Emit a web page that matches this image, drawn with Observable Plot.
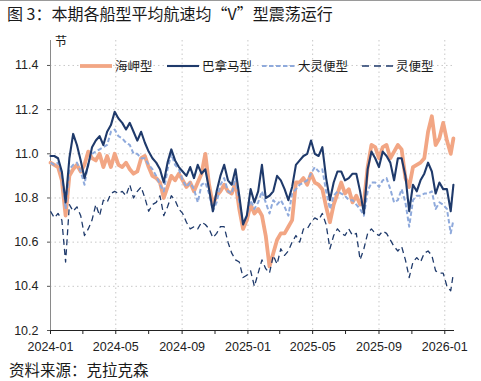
<!DOCTYPE html>
<html><head><meta charset="utf-8">
<script src="https://cdn.jsdelivr.net/npm/d3@7"></script>
<script src="https://cdn.jsdelivr.net/npm/@observablehq/plot@0.6"></script>
<style>
body{margin:0;background:#fff;}
#wrap{position:relative;width:481px;height:381px;overflow:hidden;background:#fff;font-family:"Noto Sans CJK SC","Noto Sans",sans-serif;color:#1a1a1a;}
#topline{position:absolute;left:0;top:0;width:481px;height:1px;background:#9a9a9a;}
#title{position:absolute;left:7px;top:3px;font-size:16px;line-height:20px;white-space:nowrap;}
#chart{position:absolute;left:0;top:0;}
#unit{position:absolute;left:55px;top:34px;font-size:12px;line-height:14px;}
#source{position:absolute;left:9px;top:360px;font-size:15.5px;line-height:18px;white-space:nowrap;}
#legend{position:absolute;left:0;top:0;pointer-events:none;}
</style></head><body>
<div id="wrap">
  <div id="topline"></div>
  <div id="title">图 3：本期各船型平均航速均“V”型震荡运行</div>
  <div id="chart"></div>
  <div id="unit">节</div>
  <svg id="legend" width="481" height="90"></svg>
  <div id="source">资料来源：克拉克森</div>
</div>
<script>
// weekly sampling dates (Mon 2024-01-01 onward) plus the last observation
const startDate = new Date(Date.UTC(2024, 0, 1));
const lastDate = new Date(Date.UTC(2026, 0, 17));
const dates = d3.range(107).map(i => d3.utcDay.offset(startDate, 7 * i)).concat([lastDate]);

const seriesNames = ["海岬型", "巴拿马型", "大灵便型", "灵便型"];

const capesize = [
  10.96,10.95,10.94,10.88,10.72,10.90,10.93,10.95,10.92,10.95,11.01,10.98,10.97,11.00,10.94,10.99,10.94,11.00,10.95,
  10.94,10.96,10.93,10.91,10.92,10.98,10.99,10.94,10.90,10.89,10.87,10.80,10.85,10.90,10.88,10.91,10.88,
  10.85,10.87,10.83,10.87,10.91,11.00,10.86,10.77,10.81,10.83,10.86,10.83,10.82,10.87,10.75,10.66,10.70,
  10.77,10.73,10.75,10.72,10.63,10.49,10.55,10.61,10.64,10.64,10.67,10.70,10.87,10.87,10.89,10.86,10.91,10.87,
  10.86,10.84,10.76,10.69,10.77,10.82,10.87,10.82,10.84,10.78,10.81,10.77,10.78,10.94,11.04,11.03,10.98,
  11.03,11.04,10.98,11.01,11.04,11.02,10.89,10.85,10.94,10.95,10.96,10.98,11.10,11.17,11.04,11.07,11.14,11.06,11.00,
  11.07
];
const panamax = [
  10.99,10.99,10.98,10.92,10.78,10.98,11.09,11.04,10.97,10.89,10.95,11.03,11.06,11.08,11.04,11.10,11.13,11.19,11.16,
  11.14,11.11,11.14,11.10,11.06,11.10,11.05,11.01,10.98,10.96,10.93,10.87,10.96,11.02,10.97,10.94,10.92,
  10.90,10.94,10.89,10.95,10.91,10.93,10.84,10.74,10.83,10.90,10.95,10.88,10.86,10.93,10.81,10.68,10.72,
  10.84,10.78,10.83,10.95,10.80,10.81,10.83,10.90,10.88,10.84,10.79,10.85,10.95,10.97,10.99,11.00,11.06,11.00,
  10.99,11.03,10.89,10.79,10.87,10.92,10.92,10.88,10.89,10.91,10.91,10.83,10.73,10.93,11.01,10.98,10.94,
  11.01,10.99,10.96,10.88,10.98,10.98,10.90,10.74,10.86,10.83,10.88,10.91,10.96,10.92,10.82,10.87,10.84,10.84,10.74,
  10.86
];
const supramax = [
  10.96,10.95,10.96,10.90,10.75,10.93,10.95,10.96,10.92,10.86,10.96,11.00,11.01,11.02,11.03,11.04,11.10,11.11,11.08,
  11.07,11.05,11.04,11.00,11.00,10.98,10.98,10.95,10.93,10.90,10.86,10.83,10.93,11.00,10.95,10.93,10.88,
  10.85,10.87,10.84,10.78,10.86,10.87,10.82,10.74,10.78,10.86,10.89,10.83,10.82,10.89,10.78,10.69,10.72,
  10.79,10.75,10.78,10.83,10.78,10.73,10.79,10.77,10.79,10.76,10.72,10.82,10.84,10.86,10.87,10.88,10.91,10.94,
  10.92,10.93,10.83,10.75,10.81,10.83,10.82,10.81,10.79,10.79,10.77,10.75,10.72,10.83,10.87,10.87,10.85,
  10.88,10.89,10.84,10.78,10.79,10.84,10.78,10.67,10.79,10.81,10.81,10.82,10.82,10.83,10.75,10.78,10.77,10.75,10.64,
  10.70
];
const handysize = [
  10.74,10.71,10.73,10.70,10.51,10.77,10.74,10.76,10.72,10.63,10.66,10.70,10.77,10.72,10.79,10.78,10.82,10.83,10.82,
  10.83,10.81,10.86,10.80,10.83,10.85,10.80,10.74,10.77,10.78,10.81,10.72,10.76,10.81,10.79,10.75,10.73,
  10.69,10.66,10.67,10.66,10.69,10.68,10.66,10.62,10.64,10.67,10.67,10.60,10.55,10.52,10.51,10.44,10.45,
  10.47,10.40,10.46,10.52,10.48,10.46,10.54,10.50,10.57,10.54,10.56,10.60,10.63,10.60,10.66,10.66,10.69,10.71,
  10.70,10.73,10.68,10.57,10.63,10.66,10.64,10.63,10.66,10.63,10.64,10.52,10.57,10.64,10.66,10.64,10.63,
  10.65,10.64,10.61,10.58,10.56,10.58,10.52,10.44,10.51,10.53,10.51,10.55,10.56,10.54,10.47,10.46,10.46,10.40,10.38,
  10.46
];

const yTicks = [10.2, 10.4, 10.6, 10.8, 11.0, 11.2, 11.4];
const xTickLabels = ["2024-01","2024-05","2024-09","2025-01","2025-05","2025-09","2026-01"];

const styles = {
  "海岬型":   {stroke: "#F2A684", strokeWidth: 3.8, dash: null},
  "巴拿马型": {stroke: "#1F3A6B", strokeWidth: 2.1, dash: null},
  "大灵便型": {stroke: "#8FAADC", strokeWidth: 2.0, dash: "4.5,2.5"},
  "灵便型":   {stroke: "#1F3A6B", strokeWidth: 1.3, dash: "6,4"}
};

const valuesBy = {"海岬型": capesize, "巴拿马型": panamax, "大灵便型": supramax, "灵便型": handysize};
const rows = name => dates.map((d, i) => ({date: d, value: valuesBy[name][i], series: name}));

const parseM = d3.utcParse("%Y-%m");
const majorTicks = xTickLabels.map(parseM);
const allTicks = d3.utcMonth.every(2).range(new Date(Date.UTC(2024,0,1)), new Date(Date.UTC(2026,0,2)));
const labelSet = new Set(xTickLabels);
const fmt = d3.utcFormat("%Y-%m");

const xDomain = [new Date(Date.UTC(2024,0,1)), new Date(Date.UTC(2026,0,19))];
const yTop = 11.513;

const lineMark = name => Plot.line(rows(name), {
  x: "date", y: "value",
  stroke: styles[name].stroke, strokeWidth: styles[name].strokeWidth,
  strokeDasharray: styles[name].dash, strokeLinejoin: "round", strokeLinecap: styles[name].dash ? "butt" : "round"
});

const chart = Plot.plot({
  width: 481, height: 364,
  marginLeft: 50, marginRight: 27, marginTop: 40, marginBottom: 34,
  style: {fontFamily: '"Liberation Sans", Arial, sans-serif', fontSize: "12.5px", color: "#222", background: "transparent", overflow: "visible"},
  x: {type: "utc", domain: xDomain},
  y: {domain: [10.2, yTop]},
  marks: [
    Plot.gridY(yTicks, {stroke: "#c8c8c8", strokeOpacity: 1, strokeDasharray: "1.5,3"}),
    Plot.gridX(majorTicks.slice(1), {stroke: "#c8c8c8", strokeOpacity: 1, strokeDasharray: "1.5,3"}),
    Plot.ruleX([xDomain[0]], {y1: 10.2, y2: yTop, stroke: "#8a8a8a"}),
    Plot.axisY(yTicks, {tickSize: 3, tickPadding: 9, tickFormat: d3.format(".1f"), label: null, stroke: "#555", fill: "#222"}),
    Plot.axisX(allTicks, {tickSize: 4, tickPadding: 8, tickFormat: d => labelSet.has(fmt(d)) ? fmt(d) : "", label: null, stroke: "#222", fill: "#222"}),
    lineMark("海岬型"),
    lineMark("大灵便型"),
    lineMark("灵便型"),
    lineMark("巴拿马型"),
    Plot.ruleY([10.2], {stroke: "#222", strokeWidth: 1})
  ]
});
document.getElementById("chart").appendChild(chart);

// legend
const legendItems = [
  {name: "海岬型", x0: 80, x1: 112, tx: 115},
  {name: "巴拿马型", x0: 167, x1: 199, tx: 202},
  {name: "大灵便型", x0: 262, x1: 295, tx: 298},
  {name: "灵便型", x0: 362, x1: 393, tx: 396}
];
const lg = d3.select("#legend");
const ly = 66;
legendItems.forEach(it => {
  const s = styles[it.name];
  lg.append("line").attr("x1", it.x0).attr("x2", it.x1).attr("y1", ly).attr("y2", ly)
    .attr("stroke", s.stroke).attr("stroke-width", s.strokeWidth)
    .attr("stroke-dasharray", it.name === "灵便型" ? "7,5" : s.dash);
  lg.append("text").attr("x", it.tx).attr("y", ly).attr("dy", "0.36em")
    .attr("font-size", "12.5px").attr("font-family", '"Noto Sans CJK SC", sans-serif')
    .attr("fill", "#1a1a1a").text(it.name);
});
</script>
</body></html>
